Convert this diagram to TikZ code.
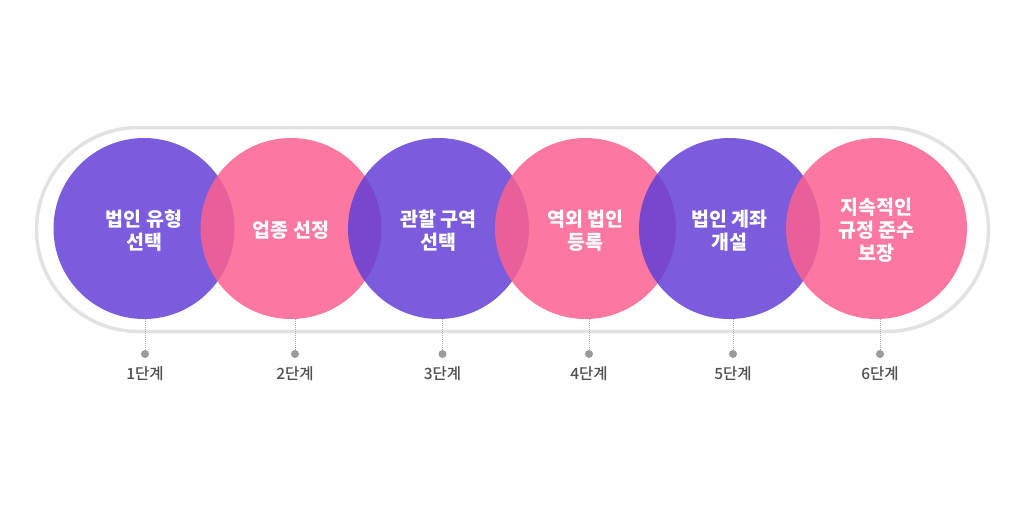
\documentclass[tikz,border=0pt]{standalone}
\usepackage{fontspec}
\newfontfamily\kr{Noto Sans CJK KR}
\newfontfamily\krm{Noto Sans CJK KR Medium}
\definecolor{purp}{RGB}{99,63,214}
\definecolor{pinkc}{RGB}{251,96,143}
\definecolor{ringgray}{RGB}{226,226,226}
\definecolor{dotgray}{RGB}{155,155,155}
\definecolor{linegray}{RGB}{170,170,170}
\definecolor{labelgray}{RGB}{80,80,80}
\begin{document}
\begin{tikzpicture}[x=1pt,y=-1pt,
  stage/.style={circle, minimum size=181pt, inner sep=0pt, fill opacity=0.85},
  purpstage/.style={stage, fill=purp},
  pinkstage/.style={stage, fill=pinkc},
  title/.style={text=white, font=\kr\bfseries\fontsize{19.5}{23}\selectfont, align=center, inner sep=0pt},
  stagedot/.style={circle, fill=dotgray, minimum size=8pt, inner sep=0pt},
  conn/.style={draw=linegray, line width=0.9pt, dash pattern=on 1pt off 1pt},
  lbl/.style={font=\krm\fontsize{15.5}{17}\selectfont, text=labelgray, inner sep=0pt}
]
\useasboundingbox (0,0) rectangle (1024,523);
\draw[line width=3.5pt, draw=ringgray, rounded corners=102pt] (36.5,127.5) rectangle (988.5,331.5);

\node[purpstage] (s1) at (144,228.5) {};
\node[pinkstage] (s2) at (291,228.5) {};
\node[purpstage] (s3) at (438.5,228.5) {};
\node[pinkstage] (s4) at (585.5,228.5) {};
\node[purpstage] (s5) at (729.5,228.5) {};
\node[pinkstage] (s6) at (876.5,228.5) {};

\node[title] (t1) at ([yshift=-2pt]s1.center) {법인 유형\\선택};
\node[title] (t2) at ([yshift=-2pt]s2.center) {업종 선정};
\node[title] (t3) at ([yshift=-2pt]s3.center) {관할 구역\\선택};
\node[title] (t4) at ([yshift=-2pt]s4.center) {역외 법인\\등록};
\node[title] (t5) at ([yshift=-2pt]s5.center) {법인 계좌\\개설};
\node[title] (t6) at ([yshift=-2pt]s6.center) {지속적인\\규정 준수\\보장};

\foreach \i/\x in {1/145,2/295,3/442.5,4/589,5/733,6/880}{
  \node[stagedot] (d\i) at (\x,354) {};
  \draw[conn] (s\i.south -| d\i) -- (d\i);
  \node[lbl] (l\i) at (\x,373.5) {{\i}단계};
}
\end{tikzpicture}
\end{document}
